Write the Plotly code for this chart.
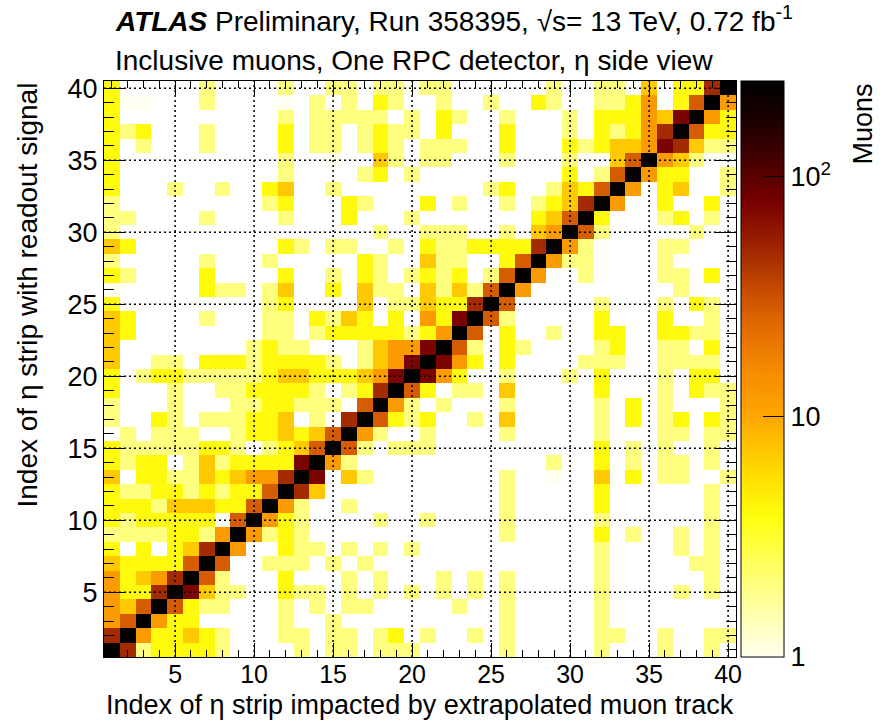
import numpy as np
import plotly.graph_objects as go

# ---- data ----
# Cell levels per row (row 40 at top ... row 1 at bottom), columns 1..40.
# Level code -> estimated number of muons in that cell ('0' = empty cell).
LEVEL_COUNTS = {'0': None, '1': 1, '2': 2, '3': 4, '4': 7, '5': 12,
                '6': 28, '7': 48, '8': 75, '9': 240}

ROWS_TOP_DOWN = [
    "30000020000200220221" "22000000200220403379",  # 40
    "31100020000102020320" "02002003200223503695",  # 39
    "30000000000202222202" "03200200020333548953",  # 38
    "32300020000302202322" "03000300020323579633",  # 37
    "30200020000302202320" "22200300032344587422",  # 36
    "30000000000200100420" "22000200020046954200",  # 35
    "30000000000200002302" "00000000030269533002",  # 34
    "30002002003400200000" "00002300243695034002",  # 33
    "20000000002300032000" "30200202347950030030",  # 32
    "22000020000200030002" "00000003469300023020",  # 31
    "20000000000000000200" "22200204596200000200",  # 30
    "43000000000320220020" "32233337952000022000",  # 29
    "20000020002000003200" "42200369522000020000",  # 28
    "32000030000300203202" "32302695002000022030",  # 27
    "10000032202400304220" "42426950000000002000",  # 26
    "30000000002300004022" "43379600000200020320",  # 25
    "43000020002203243030" "53896200000300030020",  # 24
    "43000000002202333332" "35960300200330033220",  # 23
    "40000000023220002455" "89620320000230022030",  # 22
    "40022033323333202458" "98530300002220022220",  # 21
    "30233222223443334589" "85300200020300020330",  # 20
    "30002002233332023796" "30220400000300020322",  # 19
    "20002000223322206952" "02000200000203020002",  # 18
    "20032022233402079632" "30020400000203023032",  # 17
    "02022200233434695200" "20000200000200022022",  # 16
    "32222233202346962022" "20000000000302020020",  # 15
    "32330242333389520000" "00000000200302022020",  # 14
    "40332243455798042000" "00000200100403022002",  # 13
    "32233232336974000000" "00000200000300000020",  # 12
    "33324443369520020000" "00000200000300000020",  # 11
    "32333330695320000200" "20000200000200000020",  # 10
    "22223325952320000000" "00000200000302002020",  # 9
    "30303479500322020202" "00000000000200002020",  # 8
    "43333696002220202000" "00000000000200000220",  # 7
    "53457962000300020200" "02020200000200000020",  # 6
    "53379842200322020202" "02020200000200002020",  # 5
    "54696322000202022000" "00200200000200000000",  # 4
    "56953300000200200000" "00000200000200000000",  # 3
    "79533432000220220230" "20020200000220020022",  # 2
    "97233332000020220222" "00000200000200020020",  # 1
]

STRIPS = list(range(1, 41))               # bin centres on both axes
AXIS_TICKS = [5, 10, 15, 20, 25, 30, 35, 40]
Z_MIN, Z_MAX = 1, 250                      # colour axis range (log)
CBAR_MAJOR = [1, 10, 100]
CBAR_MAJOR_TEXT = ["1", "10", "10<sup>2</sup>"]
CBAR_MINOR = [2, 3, 4, 5, 6, 7, 8, 9, 20, 30, 40, 50, 60, 70, 80, 90, 200]

TITLE_1 = ("<b><i>ATLAS</i></b> Preliminary, Run 358395, \u221As= 13 TeV, "
           "0.72 fb<sup>-1</sup>")
TITLE_2 = "Inclusive muons, One RPC detector, \u03b7 side view"
X_TITLE = "Index of \u03b7 strip impacted by extrapolated muon track"
Y_TITLE = "Index of \u03b7 strip with readout signal"
Z_TITLE = "Muons"

# ---- build matrix (bottom row first for plotly) ----
counts = []
for row in reversed(ROWS_TOP_DOWN):
    counts.append([LEVEL_COUNTS[ch] for ch in row])
zlog = [[(np.log10(v) if v is not None else None) for v in r] for r in counts]

FONT = "Liberation Sans, Arial, Helvetica, sans-serif"
W, H = 883, 722
ML, MR, MT, MB = 104, 147, 81, 65
PW, PH = W - ML - MR, H - MT - MB

colorscale = [
    [0.00, "#fffff0"], [0.08, "#ffffa8"], [0.16, "#ffff60"], [0.24, "#ffff10"],
    [0.31, "#ffe000"], [0.37, "#ffc000"], [0.42, "#ffa500"], [0.50, "#f58a00"],
    [0.58, "#e06800"], [0.65, "#bf4500"], [0.72, "#9a2000"], [0.79, "#780000"],
    [0.86, "#480000"], [0.93, "#1c0000"], [1.00, "#000000"],
]

zmax_log = np.log10(Z_MAX)
cb_left_px = 741
cb_thick = 43
cb_x = (cb_left_px - ML) / PW
cb_right = (cb_left_px + cb_thick - ML) / PW

fig = go.Figure(go.Heatmap(
    x=STRIPS, y=STRIPS, z=zlog,
    zmin=np.log10(Z_MIN), zmax=zmax_log,
    colorscale=colorscale, hoverongaps=False,
    colorbar=dict(
        x=cb_x, xanchor="left", xpad=0, y=0.5, yanchor="middle",
        len=1, lenmode="fraction", ypad=0,
        thickness=cb_thick, thicknessmode="pixels",
        outlinewidth=1, outlinecolor="black",
        tickmode="array", tickvals=[np.log10(v) for v in CBAR_MAJOR],
        ticktext=CBAR_MAJOR_TEXT, ticks="inside", ticklen=21,
        tickwidth=1, tickcolor="black",
        tickfont=dict(family=FONT, size=27, color="black"),
    ),
))

axis_common = dict(
    range=[0.5, 40.5], tickmode="array", tickvals=AXIS_TICKS,
    ticks="inside", tickwidth=1, tickcolor="black",
    showline=True, linecolor="black", linewidth=1, mirror="ticks",
    showgrid=False, zeroline=False,
)
fig.update_xaxes(**axis_common, ticklen=14, ticklabelstandoff=-5,
                 tickfont=dict(family=FONT, size=25, color="black"),
                 minor=dict(ticks="inside", ticklen=7, dtick=1, tick0=0,
                            tickcolor="black", showgrid=False))
fig.update_yaxes(**axis_common, ticklen=20,
                 tickfont=dict(family=FONT, size=27, color="black"),
                 minor=dict(ticks="inside", ticklen=10, dtick=1, tick0=0,
                            tickcolor="black", showgrid=False))

shapes = []
for v in AXIS_TICKS:
    shapes.append(dict(type="line", xref="x", yref="paper", x0=v, x1=v, y0=0, y1=1,
                       line=dict(color="black", width=1.5, dash="2px,3px"), layer="above"))
    shapes.append(dict(type="line", xref="paper", yref="y", x0=0, x1=1, y0=v, y1=v,
                       line=dict(color="black", width=1.5, dash="2px,3px"), layer="above"))
for v in CBAR_MINOR:
    f = np.log10(v) / zmax_log
    if f <= 1:
        shapes.append(dict(type="line", xref="paper", yref="paper",
                           x0=cb_right - 10 / PW, x1=cb_right, y0=f, y1=f,
                           line=dict(color="black", width=1)))

annotations = [
    dict(text=TITLE_1, xref="paper", yref="paper", x=(113 - ML) / PW,
         y=(H - MB - 19) / PH, xanchor="left", yanchor="middle", showarrow=False,
         font=dict(family=FONT, size=28, color="black")),
    dict(text=TITLE_2, xref="paper", yref="paper", x=(113 - ML) / PW,
         y=(H - MB - 61) / PH, xanchor="left", yanchor="middle", showarrow=False,
         font=dict(family=FONT, size=28, color="black")),
    dict(text=X_TITLE, xref="paper", yref="paper", x=1, y=(H - MB - 705) / PH,
         xanchor="right", yanchor="middle", showarrow=False,
         font=dict(family=FONT, size=27, color="black")),
    dict(text=Y_TITLE, xref="paper", yref="paper", x=(27 - ML) / PW, y=1,
         xanchor="center", yanchor="top", textangle=-90, showarrow=False,
         font=dict(family=FONT, size=28, color="black")),
    dict(text=Z_TITLE, xref="paper", yref="paper", x=(862 - ML) / PW, y=(H - MB - 82) / PH,
         xanchor="center", yanchor="top", textangle=-90, showarrow=False,
         font=dict(family=FONT, size=27, color="black")),
]

fig.update_layout(
    width=W, height=H, margin=dict(l=ML, r=MR, t=MT, b=MB, pad=0, autoexpand=False),
    paper_bgcolor="white", plot_bgcolor="white",
    font=dict(family=FONT, color="black"),
    shapes=shapes, annotations=annotations, showlegend=False,
)

fig.write_html("out.html", config={"displayModeBar": False},
               post_script="document.body.style.margin='0';")
